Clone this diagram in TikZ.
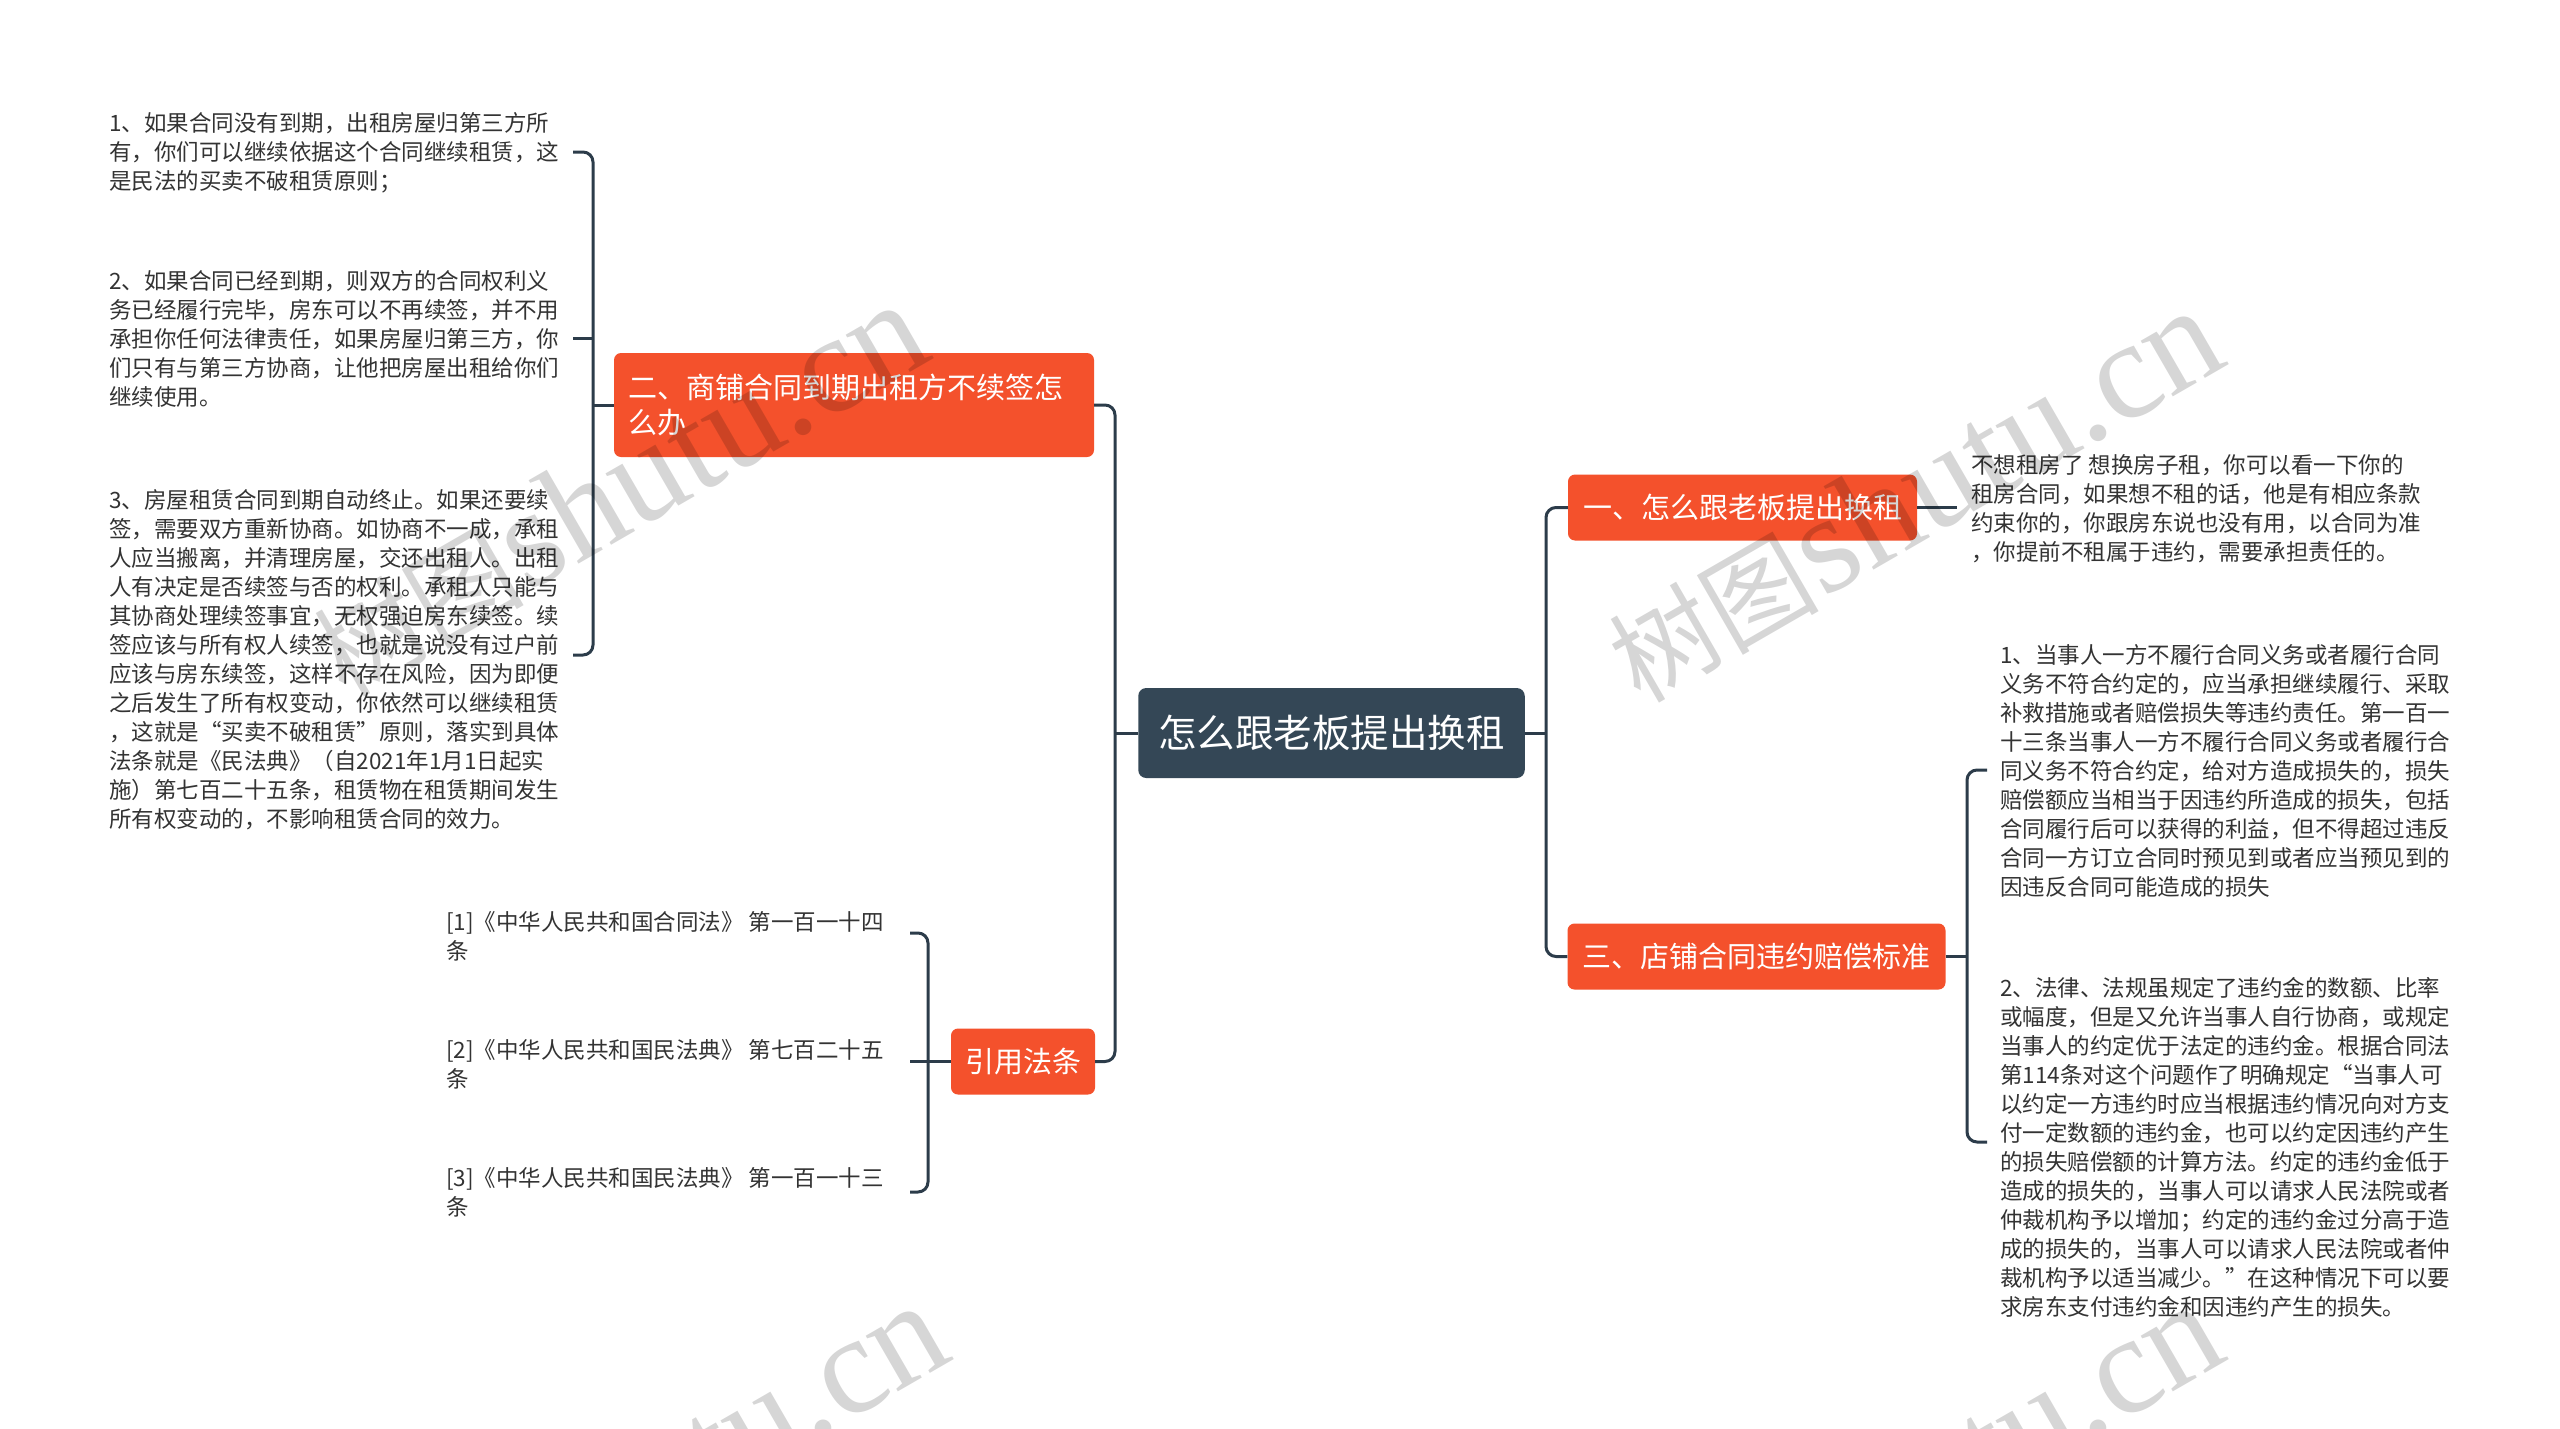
\documentclass[tikz,border=0pt]{standalone}
\usepackage{fontspec}
\setmainfont{Noto Sans CJK SC}
\newfontfamily\wmlatin{Liberation Serif}
\definecolor{linec}{HTML}{2C3C4A}
\definecolor{orangec}{HTML}{F4512C}
\definecolor{rootc}{HTML}{344756}
\definecolor{textc}{HTML}{333333}
\newcommand{\wmtext}{{\fontsize{105pt}{105pt}\selectfont 树图} {\wmlatin\fontsize{140pt}{140pt}\selectfont shutu.cn}}
\tikzset{
  conn/.style={draw=linec, line width=3pt, rounded corners=10pt},
  orangebox/.style={fill=orangec, text=white, rounded corners=7pt, inner xsep=15pt, inner ysep=0pt,
    minimum height=66pt, font=\fontsize{29pt}{35pt}\selectfont},
  rootbox/.style={fill=rootc, text=white, rounded corners=8pt, inner xsep=20pt, inner ysep=0pt,
    minimum height=90pt, font=\fontsize{38.5pt}{44pt}\selectfont},
  bodytext/.style={text=textc, align=left, inner sep=0pt, anchor=west,
    font=\fontsize{22.5pt}{29pt}\selectfont},
  wm/.style={text=black, text opacity=0.16, rotate=30, anchor=base west, inner sep=0pt}
}
\begin{document}
\begin{tikzpicture}[x=1pt,y=-1pt]
\useasboundingbox (0,0) rectangle (2560,1429);
\clip (0,0) rectangle (2560,1429);
\fill[white] (0,0) rectangle (2560,1429);

% main nodes
\node[rootbox] (root) at (1331.5,733) {怎么跟老板提出换租};
\node[orangebox, text width=452pt, align=left, inner xsep=14pt, minimum height=104pt] (b2) at (854,405)
  {二、商铺合同到期出租方不续签怎\\么办};
\node[orangebox, inner xsep=14pt] (cite) at (1023,1061.5) {引用法条};
\node[orangebox] (b1) at (1742.5,507.5) {一、怎么跟老板提出换租};
\node[orangebox] (b3) at (1756.5,956.5) {三、店铺合同违约赔偿标准};

% text leaves
\node[bodytext] (l1) at (109,153) {1、如果合同没有到期，出租房屋归第三方所\\
有，你们可以继续依据这个合同继续租赁，这\\
是民法的买卖不破租赁原则；};
\node[bodytext] (l2) at (109,339) {2、如果合同已经到期，则双方的合同权利义\\
务已经履行完毕，房东可以不再续签，并不用\\
承担你任何法律责任，如果房屋归第三方，你\\
们只有与第三方协商，让他把房屋出租给你们\\
继续使用。};
\node[bodytext] (l3) at (109,660) {3、房屋租赁合同到期自动终止。如果还要续\\
签，需要双方重新协商。如协商不一成，承租\\
人应当搬离，并清理房屋，交还出租人。出租\\
人有决定是否续签与否的权利。承租人只能与\\
其协商处理续签事宜，无权强迫房东续签。续\\
签应该与所有权人续签，也就是说没有过户前\\
应该与房东续签，这样不存在风险，因为即便\\
之后发生了所有权变动，你依然可以继续租赁\\
，这就是“买卖不破租赁”原则，落实到具体\\
法条就是《民法典》（自2021年1月1日起实\\
施）第七百二十五条，租赁物在租赁期间发生\\
所有权变动的，不影响租赁合同的效力。};

\node[bodytext] (c1) at (446,936) {[1]《中华人民共和国合同法》 第一百一十四\\条};
\node[bodytext] (c2) at (446,1064) {[2]《中华人民共和国民法典》 第七百二十五\\条};
\node[bodytext] (c3) at (446,1192) {[3]《中华人民共和国民法典》 第一百一十三\\条};

\node[bodytext] (r1) at (1971,509) {不想租房了 想换房子租，你可以看一下你的\\
租房合同，如果想不租的话，他是有相应条款\\
约束你的，你跟房东说也没有用，以合同为准\\
，你提前不租属于违约，需要承担责任的。};
\node[bodytext] (r2) at (2000,771) {1、当事人一方不履行合同义务或者履行合同\\
义务不符合约定的，应当承担继续履行、采取\\
补救措施或者赔偿损失等违约责任。第一百一\\
十三条当事人一方不履行合同义务或者履行合\\
同义务不符合约定，给对方造成损失的，损失\\
赔偿额应当相当于因违约所造成的损失，包括\\
合同履行后可以获得的利益，但不得超过违反\\
合同一方订立合同时预见到或者应当预见到的\\
因违反合同可能造成的损失};
\node[bodytext] (r3) at (2000,1147) {2、法律、法规虽规定了违约金的数额、比率\\
或幅度，但是又允许当事人自行协商，或规定\\
当事人的约定优于法定的违约金。根据合同法\\
第114条对这个问题作了明确规定“当事人可\\
以约定一方违约时应当根据违约情况向对方支\\
付一定数额的违约金，也可以约定因违约产生\\
的损失赔偿额的计算方法。约定的违约金低于\\
造成的损失的，当事人可以请求人民法院或者\\
仲裁机构予以增加；约定的违约金过分高于造\\
成的损失的，当事人可以请求人民法院或者仲\\
裁机构予以适当减少。”在这种情况下可以要\\
求房东支付违约金和因违约产生的损失。};

% connector coordinates
\coordinate (trunkL) at (1115,733);
\coordinate (trunkR) at (1546,733);
\coordinate (brL) at (593,405);
\coordinate (l1t) at (573,152);
\coordinate (l2t) at (573,338);
\coordinate (l3t) at (573,655);
\coordinate (brC) at (928,1061.5);
\coordinate (c1t) at (910,933);
\coordinate (c2t) at (910,1061.5);
\coordinate (c3t) at (910,1192);
\coordinate (brR) at (1967,956.5);
\coordinate (r2t) at (1987,770);
\coordinate (r3t) at (1987,1142);
\coordinate (r1t) at (1957,507.5);

% connectors
\draw[conn] (root.west) -- (trunkL);
\draw[conn] (b2.east) -| (trunkL) |- (cite.east);
\draw[conn] (root.east) -- (trunkR);
\draw[conn] (b1.west) -| (trunkR) |- (b3.west);

\draw[conn] (b2.west) -- (brL);
\draw[conn] (l1t) -| (brL) |- (l3t);
\draw[conn] (l2t) -- (l2t -| brL);

\draw[conn] (cite.west) -- (c2t);
\draw[conn] (c1t) -| (brC) |- (c3t);

\draw[conn] (b3.east) -- (brR);
\draw[conn] (r2t) -| (brR) |- (r3t);

\draw[conn] (b1.east) -- (r1t);

% watermarks
\node[wm] (wm1) at (1640,705) {\wmtext};
\node[wm] (wm2) at (345,699) {\wmtext};
\node[wm] (wm3) at (365,1700) {\wmtext};
\node[wm] (wm4) at (1640,1700) {\wmtext};
\end{tikzpicture}
\end{document}
